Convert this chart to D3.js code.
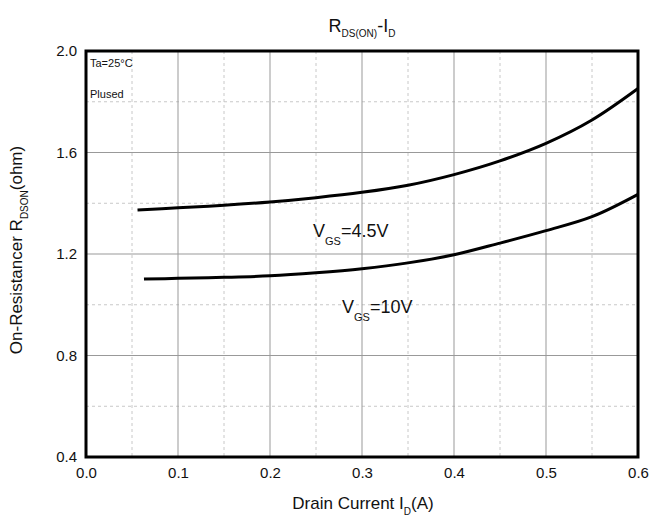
<!DOCTYPE html>
<html>
<head>
<meta charset="utf-8">
<script src="https://cdn.jsdelivr.net/npm/d3@7"></script>
<style>
  html, body { margin: 0; padding: 0; background: #fff; }
  svg { display: block; font-family: "Liberation Sans", Arial, sans-serif; }
</style>
</head>
<body>
<svg id="chart" width="652" height="522"></svg>
<script>
// ---- data ----
const currentVgs45 = [0.056, 0.1, 0.15, 0.2, 0.25, 0.3, 0.35, 0.4, 0.45, 0.5, 0.55, 0.6];
const rdsVgs45     = [1.373, 1.382, 1.392, 1.405, 1.422, 1.443, 1.471, 1.513, 1.567, 1.636, 1.728, 1.852];
const currentVgs10 = [0.063, 0.1, 0.15, 0.2, 0.25, 0.3, 0.35, 0.4, 0.45, 0.5, 0.55, 0.6];
const rdsVgs10     = [1.101, 1.104, 1.108, 1.114, 1.126, 1.142, 1.165, 1.197, 1.243, 1.292, 1.347, 1.435];
const xTicks = [0, 0.1, 0.2, 0.3, 0.4, 0.5, 0.6];
const xMinorTicks = [0.05, 0.15, 0.25, 0.35, 0.45, 0.55];
const yTicks = [0.4, 0.8, 1.2, 1.6, 2.0];
const yMinorTicks = [0.6, 1.0, 1.4, 1.8];

// ---- layout ----
const svg = d3.select("#chart");
const L = 86, R = 638, T = 51, B = 457;
const x = d3.scaleLinear().domain([0, 0.6]).range([L, R]);
const y = d3.scaleLinear().domain([0.4, 2.0]).range([B, T]);

const grid = svg.append("g");
// minor dashed grid
grid.selectAll(".vx").data(xMinorTicks).join("line")
  .attr("class", "vx")
  .attr("x1", d => x(d)).attr("x2", d => x(d)).attr("y1", T).attr("y2", B)
  .attr("stroke", "#c8c8c8").attr("stroke-width", 1).attr("stroke-dasharray", "3,3");
grid.selectAll(".hy").data(yMinorTicks).join("line")
  .attr("class", "hy")
  .attr("y1", d => y(d)).attr("y2", d => y(d)).attr("x1", L).attr("x2", R)
  .attr("stroke", "#c8c8c8").attr("stroke-width", 1).attr("stroke-dasharray", "3,3");
// major solid grid
grid.selectAll(".mx").data(xTicks.slice(1, -1)).join("line")
  .attr("class", "mx")
  .attr("x1", d => x(d)).attr("x2", d => x(d)).attr("y1", T).attr("y2", B)
  .attr("stroke", "#999").attr("stroke-width", 1);
grid.selectAll(".my").data(yTicks.slice(1, -1)).join("line")
  .attr("class", "my")
  .attr("y1", d => y(d)).attr("y2", d => y(d)).attr("x1", L).attr("x2", R)
  .attr("stroke", "#999").attr("stroke-width", 1);

// axes (labels only)
const xAxis = d3.axisBottom(x).tickValues(xTicks).tickFormat(d3.format(".1f")).tickSize(0).tickPadding(10);
const gx = svg.append("g").attr("transform", `translate(0,${B})`).call(xAxis);
gx.select(".domain").remove();
gx.selectAll("text").attr("font-size", 15).attr("fill", "#111").attr("font-family", "Liberation Sans, Arial, sans-serif");

const yAxis = d3.axisLeft(y).tickValues(yTicks).tickFormat(d3.format(".1f")).tickSize(0).tickPadding(9);
const gy = svg.append("g").attr("transform", `translate(${L},0)`).call(yAxis);
gy.select(".domain").remove();
gy.selectAll("text").attr("font-size", 15).attr("fill", "#111").attr("font-family", "Liberation Sans, Arial, sans-serif");

// curves
const line = d3.line().x(d => x(d[0])).y(d => y(d[1])).curve(d3.curveCatmullRom.alpha(0.5));
svg.append("path").datum(d3.zip(currentVgs45, rdsVgs45)).attr("d", line)
  .attr("fill", "none").attr("stroke", "#000").attr("stroke-width", 3);
svg.append("path").datum(d3.zip(currentVgs10, rdsVgs10)).attr("d", line)
  .attr("fill", "none").attr("stroke", "#000").attr("stroke-width", 3);

// frame
svg.append("rect").attr("x", L).attr("y", T).attr("width", R - L).attr("height", B - T)
  .attr("fill", "none").attr("stroke", "#000").attr("stroke-width", 3);

// annotations
svg.append("text").attr("x", 90).attr("y", 67).attr("font-size", 11).attr("fill", "#111")
  .text("Ta=25°C");
svg.append("text").attr("x", 90).attr("y", 97.5).attr("font-size", 11).attr("fill", "#111")
  .text("Plused");

function subText(sel, parts) {
  parts.forEach(p => {
    const t = sel.append("tspan").text(p.t);
    if (p.fs) t.attr("font-size", p.fs);
    if (p.dy) t.attr("dy", p.dy);
  });
  return sel;
}

subText(svg.append("text").attr("x", 313).attr("y", 237).attr("font-size", 18).attr("fill", "#111"),
  [{t: "V"}, {t: "GS", fs: 11, dy: 8}, {t: "=4.5V", dy: -8}]);
subText(svg.append("text").attr("x", 342).attr("y", 313).attr("font-size", 18).attr("fill", "#111"),
  [{t: "V"}, {t: "GS", fs: 11, dy: 8}, {t: "=10V", dy: -8}]);

// title
subText(svg.append("text").attr("x", 362).attr("y", 32).attr("text-anchor", "middle").attr("font-size", 18).attr("fill", "#111"),
  [{t: "R"}, {t: "DS(ON)", fs: 10, dy: 5}, {t: "-I", dy: -5}, {t: "D", fs: 10, dy: 5}]);

// x label
subText(svg.append("text").attr("x", 363).attr("y", 509).attr("text-anchor", "middle").attr("font-size", 17).attr("fill", "#111"),
  [{t: "Drain Current I"}, {t: "D", fs: 10, dy: 6}, {t: "(A)", dy: -6}]);

// y label
subText(svg.append("text").attr("transform", "translate(22,250) rotate(-90)").attr("text-anchor", "middle").attr("font-size", 17).attr("fill", "#111"),
  [{t: "On-Resistancer R"}, {t: "DSON", fs: 10, dy: 6}, {t: "(ohm)", dy: -6}]);
</script>
</body>
</html>
